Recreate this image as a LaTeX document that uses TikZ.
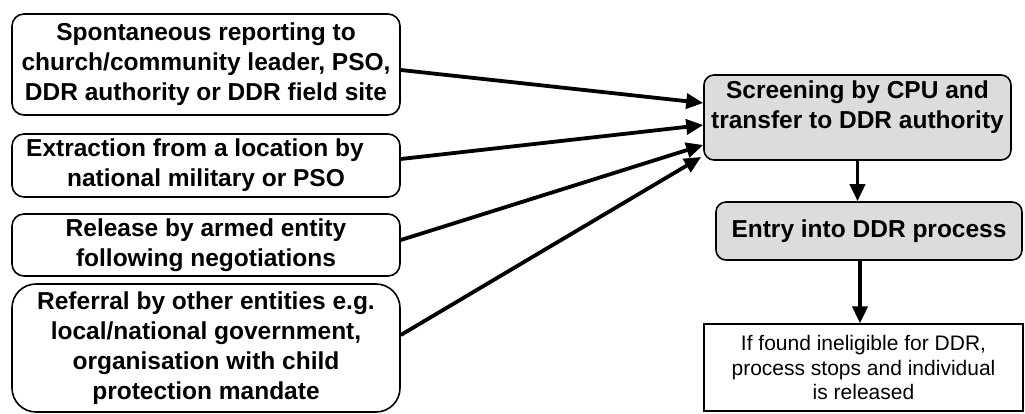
\documentclass[tikz,border=0pt]{standalone}
\usepackage{fontspec}
\setmainfont{Liberation Sans}
\usetikzlibrary{arrows.meta}
\definecolor{boxgray}{RGB}{220,220,220}
\begin{document}
\begin{tikzpicture}[x=1pt,y=-1pt,
  srcbox/.style={draw=black,line width=1.6pt,rounded corners=12pt,align=center,
    font=\fontsize{24.5}{30}\selectfont\bfseries,inner sep=0pt,minimum width=388pt},
  graybox/.style={draw=black,line width=1.6pt,rounded corners=10pt,fill=boxgray,align=center,
    font=\fontsize{24.5}{30}\selectfont\bfseries,inner sep=0pt},
  endbox/.style={draw=black,line width=1.2pt,align=center,
    font=\fontsize{21}{24.5}\selectfont,inner sep=0pt},
  arr/.style={line width=3.8pt,-{Triangle[length=17pt,width=15pt]}}]
\useasboundingbox (0,0) rectangle (1025,414);
\node[srcbox,minimum height=101pt] (b1) at (206,64.5) {Spontaneous reporting to\\church/community leader, PSO,\\DDR authority or DDR field site};
\node[srcbox,minimum height=63pt] (b2) at (206,165.5) {Extraction from a location by\hspace*{22pt}\\national military or PSO};
\node[srcbox,minimum height=62pt] (b3) at (206,245) {Release by armed entity\\following negotiations};
\node[srcbox,minimum height=128pt,rounded corners=24pt] (b4) at (206,348) {Referral by other entities e.g.\\local/national government,\\organisation with child\\protection mandate};
\node[graybox,minimum width=307pt,minimum height=85pt,text depth=26pt] (scr) at (857.5,117.5) {Screening by CPU and\\transfer to DDR authority};
\node[graybox,minimum width=306pt,minimum height=58pt] (ent) at (869,231) {Entry into DDR process};
\node[endbox,minimum width=319pt,minimum height=87pt] (fin) at (863.5,367.5) {If found ineligible for DDR,\\process stops and individual\\is released};
\draw[arr] ([yshift=-5.5pt]b1.east) -- ([yshift=14.5pt]scr.west);
\draw[arr] ([yshift=6.5pt]b2.east) -- ([yshift=-7.5pt]scr.west);
\draw[arr] ([yshift=5pt]b3.east) -- ([yshift=-27.5pt]scr.west);
\draw[arr] ([yshift=13pt]b4.east) -- ([xshift=-2pt,yshift=-39.5pt]scr.west);
\draw[arr] (scr.south) -- (scr.south |- ent.north);
\draw[arr] ([xshift=-9pt]ent.south) -- ([xshift=-9pt]ent.south |- fin.north);
\end{tikzpicture}
\end{document}
